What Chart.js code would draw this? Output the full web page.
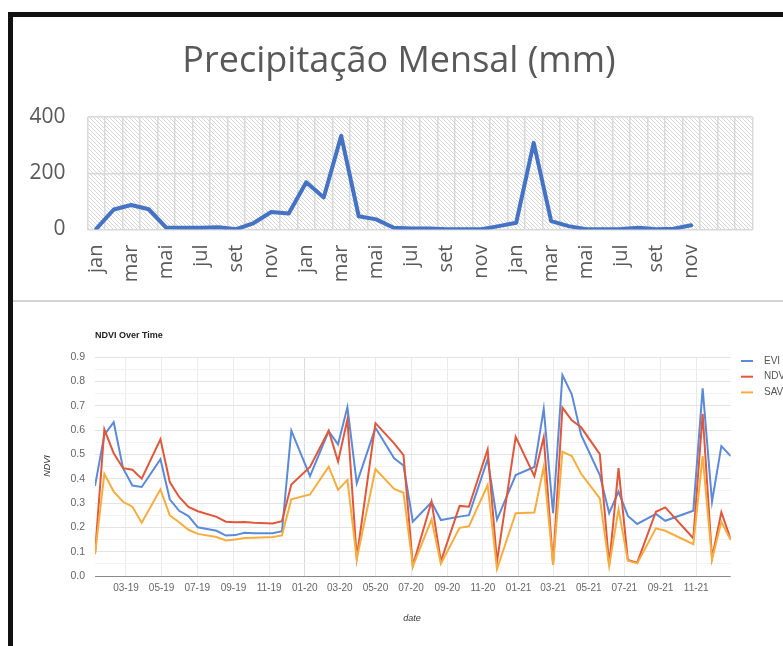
<!DOCTYPE html>
<html lang="pt">
<head>
<meta charset="UTF-8">
<title>Precipitação Mensal (mm) / NDVI Over Time</title>
<script src="https://cdn.jsdelivr.net/npm/chart.js@4.4.0/dist/chart.umd.min.js"></script>
<style>
  html,body{margin:0;width:783px;height:646px;overflow:hidden;background:#fff}
  .frame{position:absolute;left:8px;top:12px;width:900px;height:800px;border:5px solid #111;pointer-events:none;z-index:5}
  .sep{position:absolute;left:13px;top:300px;width:800px;height:2px;background:#d4d4d4}
  #precip{position:absolute;left:13px;top:17px}
  #ndviChart{position:absolute;left:0;top:300px}
</style>
</head>
<body>
<canvas id="precip" width="770" height="283"></canvas>
<div class="sep"></div>
<canvas id="ndviChart" width="820" height="346"></canvas>
<div class="frame"></div>

<script>
/* ---------- data: precipitação mensal ---------- */
const meses=['jan','fev','mar','abr','mai','jun','jul','ago','set','out','nov','dez'];
const categorias=[...meses,...meses,...meses,'',''];
const precip2019=[2,71,87,72,7,6,6,8,1,23,62,57];
const precip2020=[168,114,333,47,36,6,4,4,1,1,1,12];
const precip2021=[24,308,30,12,1,1,2,6,1,3,15,null];
const precipTicks=[0,200,400];

/* ---------- data: NDVI over time ---------- */
const ndviDates=['2019-01-07','2019-01-23','2019-02-08','2019-02-24','2019-03-12','2019-03-28','2019-04-29','2019-05-15','2019-05-31','2019-06-16',
  '2019-07-02','2019-08-03','2019-08-19','2019-09-04','2019-09-20','2019-10-06','2019-11-07','2019-11-23','2019-12-09','2020-01-10',
  '2020-02-11','2020-02-27','2020-03-14','2020-03-30','2020-05-01','2020-06-02','2020-06-18','2020-07-04','2020-08-05','2020-08-21',
  '2020-09-22','2020-10-08','2020-11-09','2020-11-25','2020-12-27','2021-01-28','2021-02-13','2021-03-01','2021-03-17','2021-04-02',
  '2021-04-18','2021-05-20','2021-06-05','2021-06-21','2021-07-07','2021-07-23','2021-08-24','2021-09-09','2021-10-27','2021-11-12',
  '2021-11-28','2021-12-14','2021-12-30'];
const evi=[0.37,0.58,0.632,0.443,0.372,0.366,0.48,0.315,0.268,0.246,
  0.2,0.186,0.166,0.168,0.178,0.176,0.176,0.184,0.597,0.41,
  0.595,0.541,0.694,0.381,0.609,0.484,0.454,0.223,0.303,0.23,
  0.244,0.25,0.48,0.232,0.415,0.448,0.687,0.258,0.826,0.747,
  0.58,0.415,0.258,0.347,0.247,0.214,0.255,0.227,0.268,0.771,
  0.305,0.534,0.493];
const ndvi=[0.09,0.603,0.504,0.443,0.437,0.40,0.562,0.386,0.325,0.284,
  0.266,0.243,0.223,0.221,0.222,0.219,0.216,0.225,0.376,0.448,
  0.597,0.47,0.643,0.075,0.628,0.545,0.497,0.043,0.306,0.06,
  0.288,0.285,0.52,0.059,0.572,0.41,0.57,0.047,0.692,0.64,
  0.611,0.501,0.045,0.443,0.066,0.055,0.264,0.282,0.155,0.666,
  0.073,0.262,0.151];
const savi=[0.09,0.42,0.347,0.305,0.285,0.219,0.356,0.249,0.221,0.19,
  0.173,0.16,0.146,0.15,0.156,0.157,0.16,0.167,0.315,0.335,
  0.449,0.354,0.395,0.07,0.439,0.358,0.342,0.04,0.232,0.05,
  0.198,0.204,0.374,0.028,0.258,0.261,0.449,0.047,0.511,0.493,
  0.42,0.319,0.041,0.274,0.063,0.052,0.196,0.186,0.131,0.493,
  0.068,0.223,0.148];
const seriesNames=['EVI','NDVI','SAVI'];
const seriesColors=['#5b8ad8','#e0573b','#f7ad3e'];

/* ---------- top chart ---------- */
const precipitacao=[...precip2019,...precip2020,...precip2021,null,null];

function hatch(ctx){
  const t=document.createElement('canvas');t.width=t.height=4;
  const g=t.getContext('2d');g.strokeStyle='#d6d6d6';g.lineWidth=1;
  g.beginPath();g.moveTo(0,0);g.lineTo(4,4);g.moveTo(-1,3);g.lineTo(1,5);g.moveTo(3,-1);g.lineTo(5,1);g.stroke();
  return ctx.createPattern(t,'repeat');
}

const precipDeco={
  id:'precipDeco',
  beforeDraw(c){
    const {ctx,chartArea:a}=c;
    ctx.save();ctx.fillStyle=hatch(ctx);ctx.fillRect(a.left,a.top,a.right-a.left,a.bottom-a.top);ctx.restore();
  },
  afterDraw(c){
    const ctx=c.ctx;ctx.save();
    ctx.font='36px "Open Sans"';ctx.fillStyle='#595959';ctx.textAlign='center';ctx.textBaseline='alphabetic';
    ctx.fillText('Precipitação Mensal (mm)',386,55);
    ctx.restore();
  }
};

new Chart(document.getElementById('precip'),{
  type:'line',
  data:{labels:categorias,datasets:[{data:precipitacao,borderColor:'#4472c4',borderWidth:4,pointRadius:0,tension:0,
    borderJoinStyle:'round',borderCapStyle:'round'}]},
  options:{
    responsive:false,animation:false,events:[],
    layout:{padding:{left:14.5,right:25.5,top:100,bottom:0}},
    plugins:{legend:{display:false},tooltip:{enabled:false}},
    scales:{
      x:{offset:true,border:{display:false},grid:{offset:true,color:'#d9d9d9',lineWidth:1.5,drawTicks:false},
        ticks:{autoSkip:false,minRotation:90,maxRotation:90,padding:15,color:'#595959',font:{family:'Open Sans',size:20},
          callback:(v,i)=>i%2===0?categorias[i]:''},
        afterFit:s=>{s.height=70.5}},
      y:{min:0,max:400,border:{display:false},grid:{color:'#d9d9d9',lineWidth:1.5,drawTicks:false},
        afterBuildTicks:s=>{s.ticks=precipTicks.map(v=>({value:v}))},
        ticks:{padding:22,color:'#595959',font:{family:'Open Sans',size:21}},
        afterFit:s=>{s.width=60}}
    }
  },
  plugins:[precipDeco]
});

/* ---------- bottom chart ---------- */
const xMin=Date.parse(ndviDates[0]),xMax=Date.parse(ndviDates[ndviDates.length-1]);
const gFont='"Liberation Sans", Arial, sans-serif';

const ndviDeco={
  id:'ndviDeco',
  afterDraw(c){
    const ctx=c.ctx;ctx.save();
    ctx.fillStyle='#222';ctx.font='bold 9px '+gFont;ctx.textBaseline='middle';ctx.textAlign='left';
    ctx.fillText('NDVI Over Time',95,36);
    // legend
    ctx.font='10px '+gFont;ctx.fillStyle='#555';
    seriesNames.forEach((n,i)=>{
      const y=61+15.7*i;
      ctx.strokeStyle=seriesColors[i];ctx.lineWidth=2;
      ctx.beginPath();ctx.moveTo(741,y);ctx.lineTo(753,y);ctx.stroke();
      ctx.fillText(n,764,y);
    });
    // axis titles
    ctx.fillStyle='#333';ctx.font='italic 9px '+gFont;ctx.textAlign='center';
    ctx.fillText('date',412,318);
    ctx.translate(47,166);ctx.rotate(-Math.PI/2);ctx.fillText('NDVI',0,0);
    ctx.restore();
  }
};

const mkData=vals=>ndviDates.map((d,i)=>({x:Date.parse(d),y:vals[i]}));

new Chart(document.getElementById('ndviChart'),{
  type:'line',
  data:{datasets:[evi,ndvi,savi].map((v,i)=>({label:seriesNames[i],data:mkData(v),borderColor:seriesColors[i],
    borderWidth:2,pointRadius:0,tension:0,order:3-i}))},
  options:{
    responsive:false,animation:false,events:[],
    layout:{padding:{left:65,right:89.3,top:57,bottom:40}},
    plugins:{legend:{display:false},tooltip:{enabled:false}},
    scales:{
      x:{type:'linear',min:xMin,max:xMax,border:{display:false},
        afterBuildTicks:s=>{const t=[];for(let y=2019;y<=2021;y++)for(let m=0;m<12;m++){const v=Date.UTC(y,m,1);if(v>=xMin&&v<=xMax)t.push({value:v});}s.ticks=t;},
        grid:{drawTicks:false,color:ctx=>{const m=new Date(ctx.tick.value).getUTCMonth();return m===0?'#d9d9d9':m%2===0?'#ebebeb':'rgba(0,0,0,0)';}},
        ticks:{autoSkip:false,maxRotation:0,padding:6,color:'#666',font:{family:gFont,size:10},
          callback:v=>{const d=new Date(v),m=d.getUTCMonth();return m%2===0?String(m+1).padStart(2,'0')+'-'+String(d.getUTCFullYear()).slice(2):'';}},
        afterFit:s=>{s.height=30}},
      y:{min:0,max:0.9,border:{display:false},
        afterBuildTicks:s=>{const t=[];for(let k=0;k<=18;k++)t.push({value:Math.round(k*5)/100});s.ticks=t;},
        grid:{drawTicks:false,color:ctx=>ctx.index===0?'#8a8a8a':ctx.index%2===0?'#e3e3e3':'#f3f3f3'},
        ticks:{autoSkip:false,padding:10,color:'#666',font:{family:gFont,size:10.5},callback:(v,i)=>i%2===0?v.toFixed(1):''},
        afterFit:s=>{s.width=30}}
    }
  },
  plugins:[ndviDeco]
});
</script>
</body>
</html>
